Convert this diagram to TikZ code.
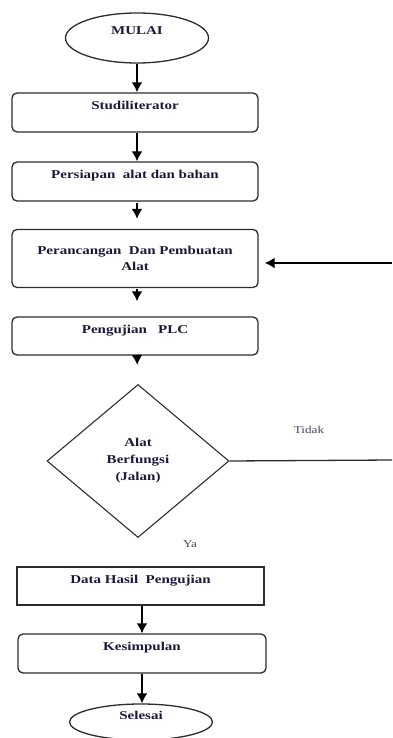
\documentclass[tikz,border=0pt]{standalone}
\usepackage{fontspec}
\setmainfont{Liberation Serif}[FakeStretch=1.25]
\usetikzlibrary{shapes.geometric,arrows.meta,calc}
\definecolor{txt}{RGB}{25,25,60}
\definecolor{edge}{RGB}{45,45,45}
\definecolor{soft}{RGB}{70,70,90}
\begin{document}
\begin{tikzpicture}[x=1pt,y=-1pt,
  lbl/.style={font=\bfseries\fontsize{12}{16}\selectfont, text=txt},
  procbase/.style={lbl, draw=edge, line width=1.3pt, rounded corners=5pt,
    minimum width=246pt, minimum height=39pt, inner sep=0pt, align=center},
  topset/.style={text height=8pt, text depth=14pt},
  procbox/.style={procbase, topset},
  plainbox/.style={procbox, rounded corners=0pt},
  term/.style={lbl, ellipse, draw=edge, line width=1.3pt, inner sep=0pt, topset},
  decision/.style={diamond, draw=edge, line width=1.1pt, inner sep=0pt,
    lbl, align=center, font=\bfseries\fontsize{12}{17}\selectfont},
  note/.style={font=\fontsize{10.5}{12}\selectfont, text=soft},
  arr/.style={-{Latex[length=10pt,width=11pt]}, line width=2.2pt, draw=black},
  plainline/.style={line width=1.3pt, draw=edge}
]
\useasboundingbox (0,0) rectangle (392,738);

\node[term, minimum width=143pt, minimum height=50pt] (mulai) at (137,38) {MULAI};
\node[procbox] (studi) at (135,112.5) {Studiliterator};
\node[procbox] (persiapan) at (135,181.5) {Persiapan\ \ alat dan bahan};
\node[procbase, minimum height=58pt] (rancang) at (135,258.5) {Perancangan\ \ Dan Pembuatan\\Alat};
\node[procbox, minimum height=38pt] (uji) at (135,336) {Pengujian\ \ \ PLC};
\node[decision, minimum width=182pt, minimum height=153pt] (dec) at (138,461) {Alat\\Berfungsi\\(Jalan)};
\node[note] (tidak) at (309,430) {Tidak};
\node[note] (ya) at (190,544) {Ya};
\node[plainbox, minimum width=247pt, minimum height=38pt] (data) at (140.5,586) {Data Hasil\ \ Pengujian};
\node[procbox, minimum width=248pt] (simpul) at (142,653.5) {Kesimpulan};
\node[term, minimum width=143pt, minimum height=36pt] (selesai) at (141,722) {Selesai};

\coordinate (ax) at (137,0);
\coordinate (bx) at (142,0);
\coordinate (ra) at (392,263);
\coordinate (rb) at (392,460);

\draw[arr] (ax |- mulai.south) -- (ax |- studi.north);
\draw[arr] (ax |- studi.south) -- (ax |- persiapan.north);
\draw[arr, shorten <=1pt, shorten >=10pt] (ax |- persiapan.south) -- (ax |- rancang.north);
\draw[arr, shorten <=1pt, shorten >=15pt] (ax |- rancang.south) -- (ax |- uji.north);
\draw[arr, shorten >=19pt] (ax |- uji.south) -- (dec.north);
\draw[plainline] (dec.east) -- (rb);
\draw[arr, shorten >=6pt] (ra) -- (rancang.east |- ra);
\draw[arr] (bx |- data.south) -- (bx |- simpul.north);
\draw[arr] (bx |- simpul.south) -- (bx |- selesai.north);
\end{tikzpicture}
\end{document}
